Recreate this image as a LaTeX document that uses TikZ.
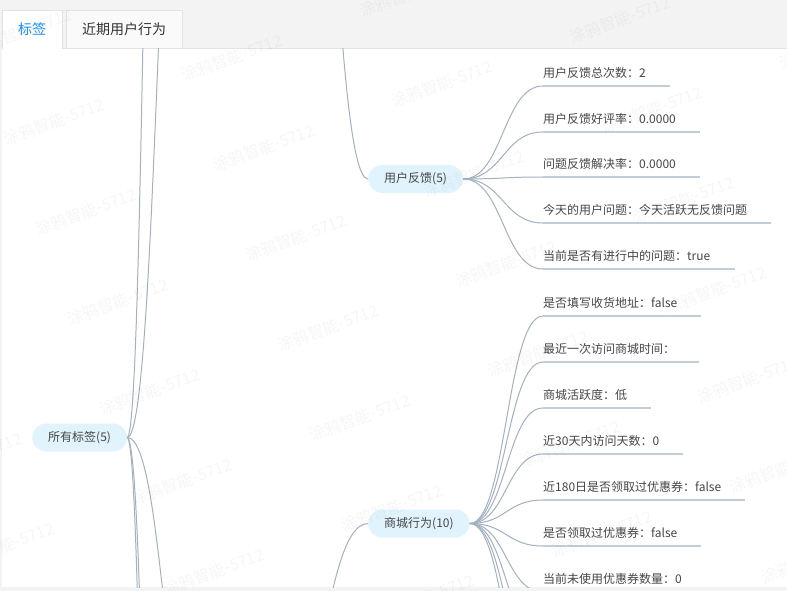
\documentclass[tikz,border=0pt]{standalone}
\usepackage{fontspec}
\setmainfont{Noto Sans CJK SC}
\usepackage{tikz}
\usetikzlibrary{calc, positioning}
\usepackage{xcolor}
\definecolor{edgecol}{HTML}{A3B1C0}
\definecolor{linecol}{HTML}{C3CDD6}
\definecolor{pillcol}{HTML}{E1F3FD}
\definecolor{txtcol}{HTML}{464646}
\definecolor{tabblue}{HTML}{1890FF}
\definecolor{headcol}{HTML}{F3F3F3}
\definecolor{bordercol}{HTML}{E3E3E3}
\tikzset{%
	pill/.style={
		fill=pillcol,
		rounded corners=14pt,
		minimum height=28pt,
		inner xsep=16pt,
		text=txtcol,
		font=\fontsize{12}{14}\selectfont
	},
	leaf/.style={
		anchor=south west,
		inner sep=0pt,
		text depth=8pt,
		text=txtcol,
		font=\fontsize{12}{14}\selectfont
	},
	branch/.style={
		draw=edgecol,
		line width=1pt,
		to path={let \p1=(\tikztostart), \p2=(\tikztotarget) in
			.. controls ({(\x1+\x2)/2},\y1) and ({(\x1+\x2)/2},\y2) .. (\tikztotarget)}
	},
	underl/.style={draw=linecol, line width=1.5pt},
	tabon/.style={
		fill=white,
		minimum width=60pt,
		minimum height=39pt,
		text=tabblue,
		font=\fontsize{14}{16}\selectfont
	},
	taboff/.style={
		fill=black!2,
		draw=bordercol,
		minimum width=116pt,
		minimum height=38pt,
		text=black!80,
		font=\fontsize{14}{16}\selectfont
	},
	wmark/.style={
		rotate=20,
		text=black,
		text opacity=0.035,
		font=\fontsize{16}{18}\selectfont
	},
}

\begin{document}
\begin{tikzpicture}[x=1pt, y=-1pt]
	\useasboundingbox (0,0) rectangle (787,591);
	
	% Draw the page and the white panel
	\fill[headcol] (0,0) rectangle (787,591);
	\fill[white] (2,48) rectangle (787,587);
	\draw[bordercol] (62,48.5) -- (787,48.5);
	
	% Draw the tabs
	\node[tabon] (tag) at (32,29.5) {标签};
	\draw[bordercol] (tag.south west) |- (tag.north east) -- (tag.south east);
	\node[taboff] (recent) at (124,29) {近期用户行为};
	
	\begin{scope}
		\clip (2,48.5) rectangle (787,587);
		
		% Draw the inner nodes
		\node[pill, anchor=west] (root) at (32,437.5) {所有标签(5)};
		\node[pill, anchor=west] (fb) at (368,179) {用户反馈(5)};
		\node[pill, anchor=west] (mall) at (368,523.5) {商城行为(10)};
		
		% Nodes outside the view
		\coordinate (up1) at (160,-420);
		\coordinate (up2) at (188,-300);
		\coordinate (dn1) at (161,1400);
		\coordinate (dn2) at (162,1100);
		\coordinate (dn3) at (199,750);
		\coordinate (fbparent) at (296,-400);
		\coordinate (mallparent) at (266,823);
		
		\foreach \c in {up1,up2,dn1,dn2,dn3}
			\draw[branch] (root.east) to (\c);
		\draw[branch] (fbparent) to (fb.west);
		\draw[branch] (mallparent) to (mall.west);
		
		% Draw the feedback leaves
		\foreach \uy/\txt [count=\i] in {86/用户反馈总次数：2, 132/用户反馈好评率：0.0000, 177/问题反馈解决率：0.0000, 223/今天的用户问题：今天活跃无反馈问题, 269/当前是否有进行中的问题：true}{
			\node[leaf] (fb\i) at (543,\uy) {\txt};
			\draw[branch] (fb.east) to (fb\i.south west);
			\draw[underl] (fb\i.south west) -- ([xshift=24pt]fb\i.south east);
		}
		
		% Draw the mall leaves
		\foreach \uy/\txt [count=\i] in {316/是否填写收货地址：false, 362/最近一次访问商城时间：, 408/商城活跃度：低, 454/近30天内访问天数：0, 500/近180日是否领取过优惠券：false, 546/是否领取过优惠券：false, 592/当前未使用优惠券数量：0}{
			\node[leaf] (mall\i) at (543,\uy) {\txt};
			\draw[branch] (mall.east) to (mall\i.south west);
			\draw[underl] (mall\i.south west) -- ([xshift=24pt]mall\i.south east);
		}
		\foreach \uy [count=\i from 8] in {638,684,730}{
			\coordinate (mall\i) at (543,\uy);
			\draw[branch] (mall.east) to (mall\i);
		}
	\end{scope}
	
	% Draw the watermark
	\foreach \i in {-1,...,4}
		\foreach \j in {-1,...,7}
			\node[wmark] (wm\i\j) at ({22+210*\i+32*\j},{32+26*\i+90*\j}) {涂鸦智能-5712};
\end{tikzpicture}
\end{document}
